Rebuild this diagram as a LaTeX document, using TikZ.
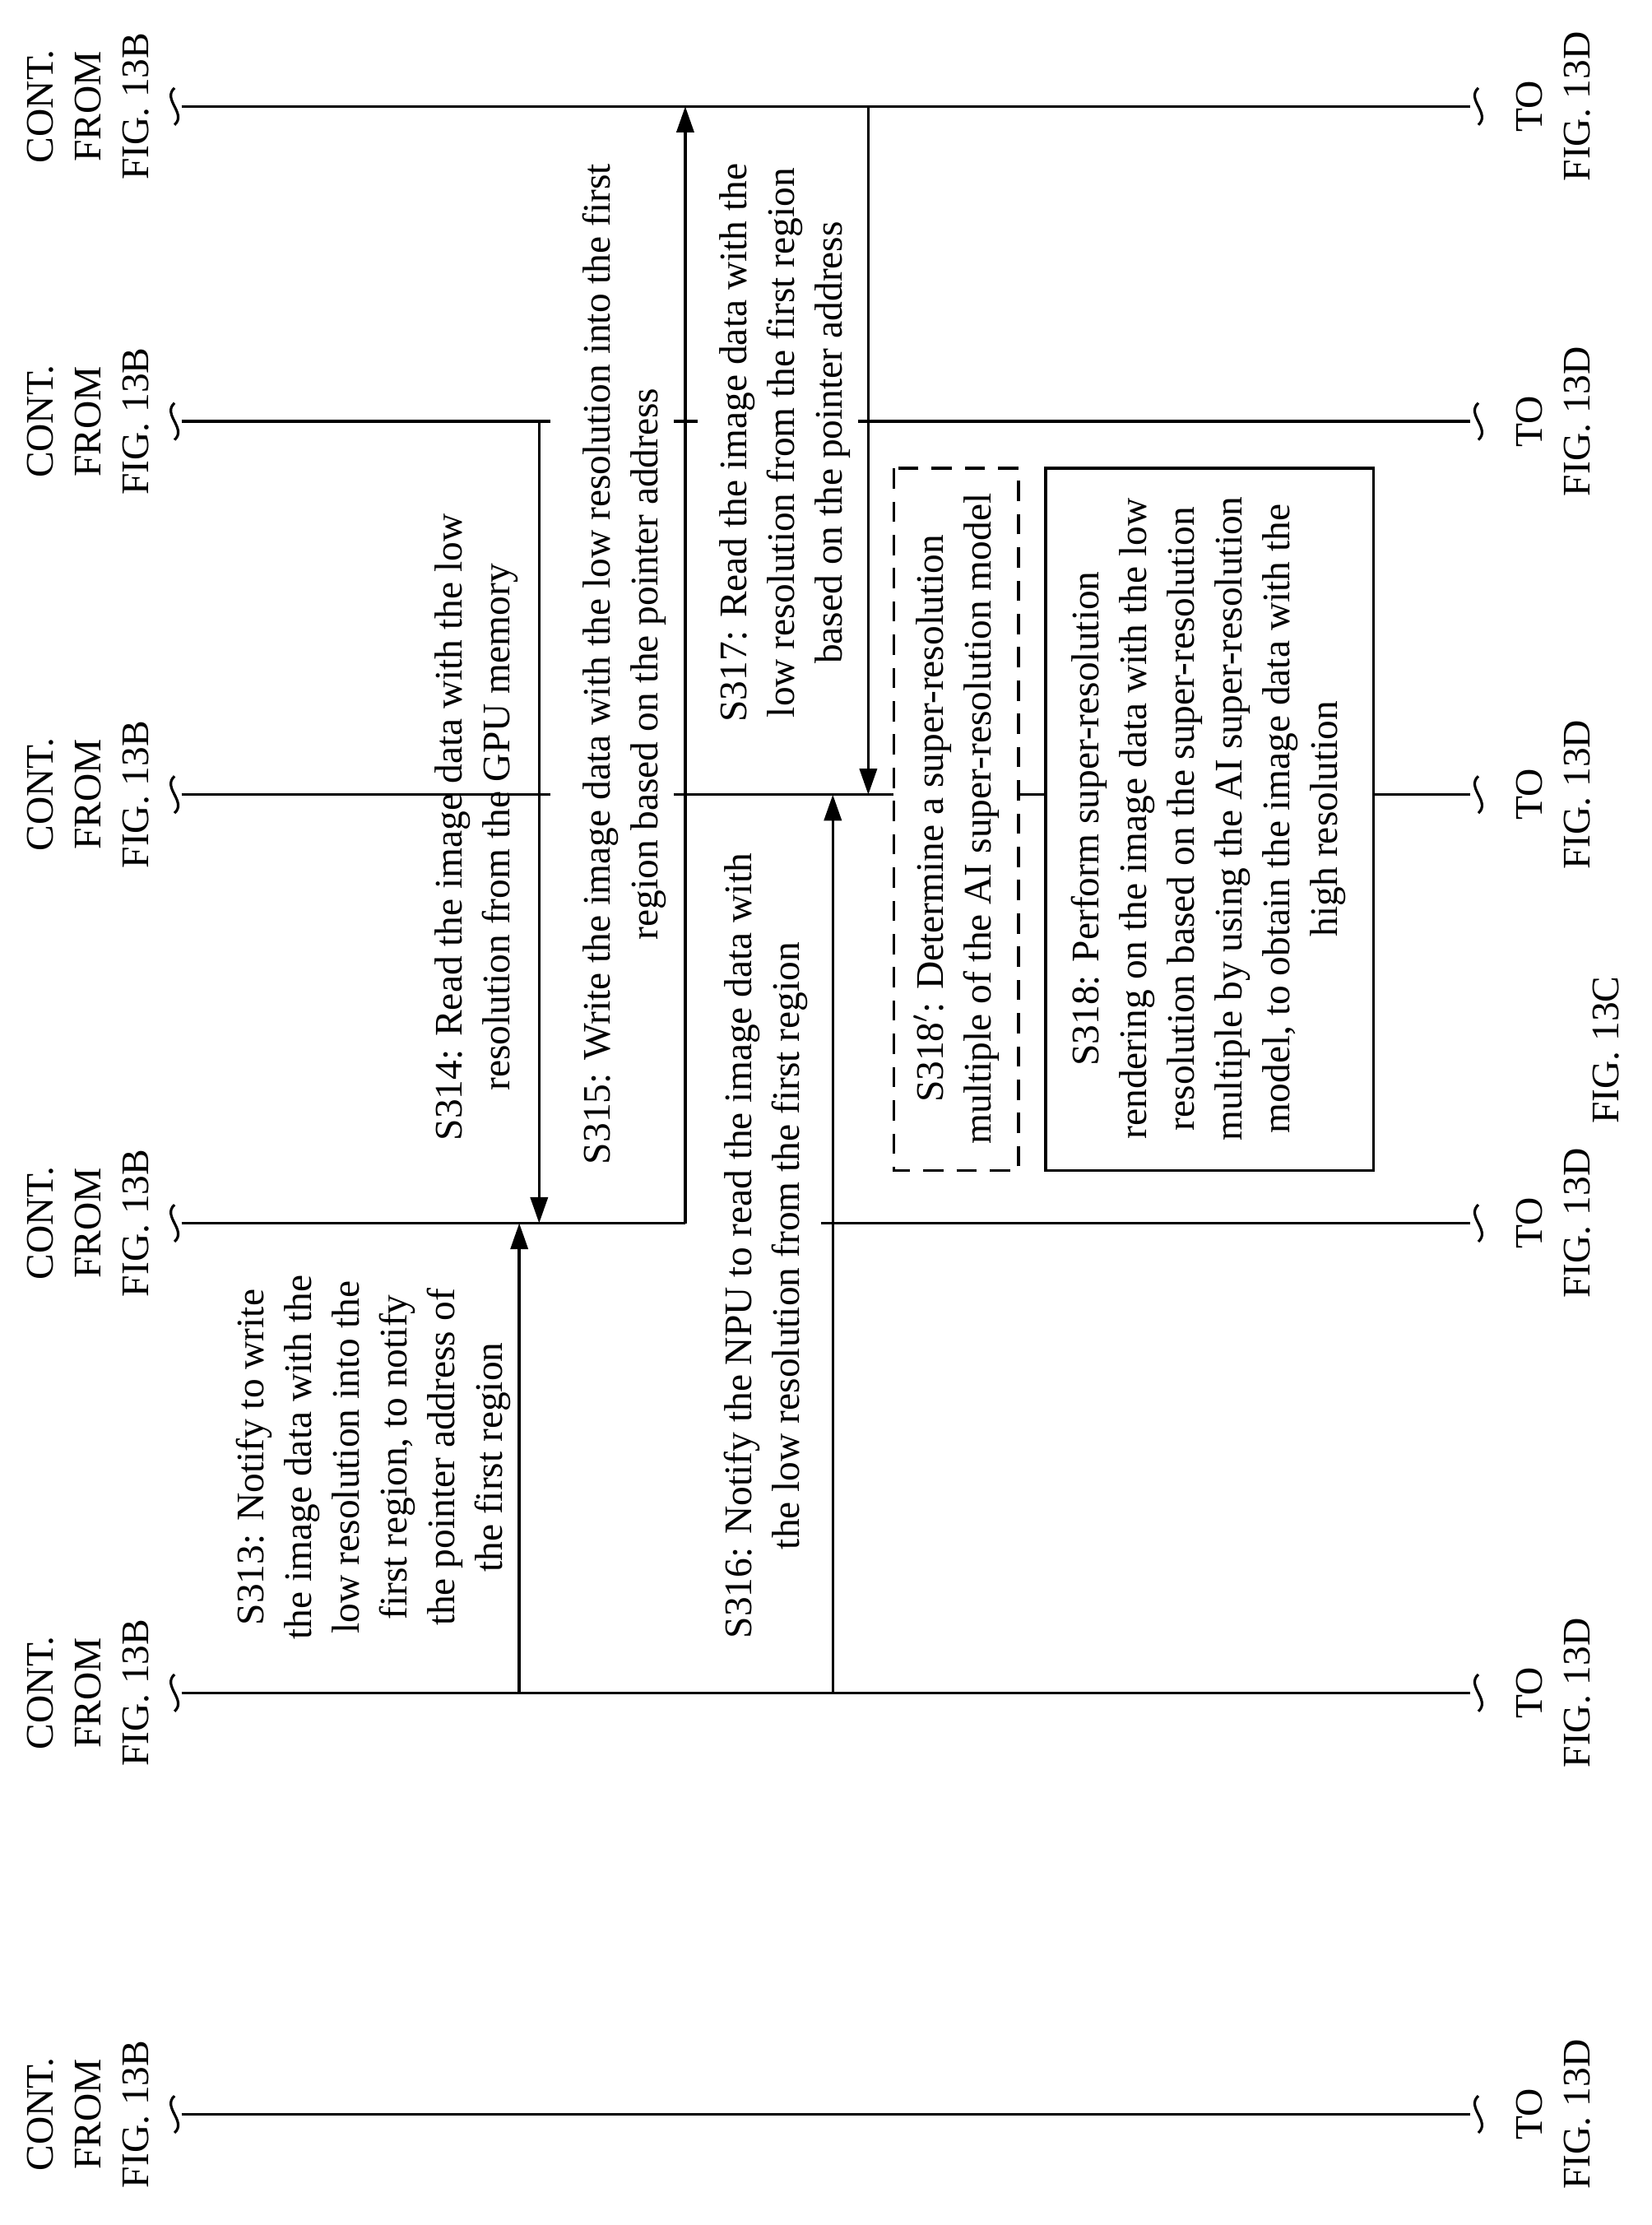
\documentclass[tikz,border=0pt]{standalone}
\usepackage{fontspec}
\setmainfont{Liberation Serif}
\usetikzlibrary{arrows.meta}
\begin{document}
\begin{tikzpicture}[x=0.017245cm,y=-0.017245cm,
  ln/.style={line width=1pt},
  arr/.style={line width=1pt,-{Triangle[length=9pt,width=6pt]}},
  lbl/.style={rotate=90,align=center,font=\fontsize{13.5}{16.5}\selectfont,inner sep=0pt},
  box/.style={draw,line width=1pt,inner sep=0pt}]
\useasboundingbox (0,0) rectangle (1164.4,1568);
\newcommand{\tld}[2]{\draw[line width=0.9pt] (#1,#2-13) .. controls (#1-9,#2-5) and (#1+9,#2+5) .. (#1,#2+13);}
\foreach \y [count=\i] in {75,297,560,862,1193,1490}{
  \node[lbl] (from\i) at (62,\y) {CONT.\\FROM\\FIG. 13B};
  \node[lbl] (to\i) at (1095,\y) {TO\\FIG. 13D};
  \tld{123}{\y}
  \tld{1042}{\y}
  \coordinate (L\i) at (128,\y);
  \coordinate (R\i) at (1036,\y);
}
% lifelines
\draw[ln] (L1) -- (R1);
\draw[ln] (L2) -- (388,297) (475,297) -- (492,297) (605,297) -- (R2);
\draw[ln] (L3) -- (388,560) (475,560) -- (630,560) (718,560) -- (737,560) (968,560) -- (R3);
\draw[ln] (L4) -- (483,862) (579,862) -- (R4);
\draw[ln] (L5) -- (R5);
\draw[ln] (L6) -- (R6);
% arrows
\coordinate (a313s) at (366,1193); \coordinate (a313e) at (366,862);
\coordinate (a314s) at (380,297); \coordinate (a314e) at (380,862);
\coordinate (a315s) at (483,862); \coordinate (a315e) at (483,75);
\coordinate (a316s) at (587,1193); \coordinate (a316e) at (587,560);
\coordinate (a317s) at (612,75); \coordinate (a317e) at (612,560);
\draw[arr] (a313s) -- (a313e);
\draw[arr] (a314s) -- (a314e);
\draw[arr] (a315s) -- (a315e);
\draw[arr] (a316s) -- (a316e);
\draw[arr] (a317s) -- (a317e);
% labels
\node[lbl] (s313) at (263,1027) {S313: Notify to write\\the image data with the\\low resolution into the\\first region, to notify\\the pointer address of\\the first region};
\node[lbl] (s314) at (336,583) {S314: Read the image data with the low\\resolution from the GPU memory};
\node[lbl] (s315) at (440,468) {S315: Write the image data with the low resolution into the first\\region based on the pointer address};
\node[lbl] (s316) at (540,878) {S316: Notify the NPU to read the image data with\\the low resolution from the first region};
\node[lbl] (s317) at (553,312) {S317: Read the image data with the\\low resolution from the first region\\based on the pointer address};
\draw[line width=1pt,dash pattern=on 7pt off 4.5pt] (630,330) rectangle (718,825);
\node[lbl] (s318p) at (674,577) {S318$'$: Determine a super-resolution\\multiple of the AI super-resolution model};
\draw[line width=1pt] (737,330) rectangle (968,825);
\node[lbl] (s318) at (852,577) {S318: Perform super-resolution\\rendering on the image data with the low\\resolution based on the super-resolution\\multiple by using the AI super-resolution\\model, to obtain the image data with the\\high resolution};
\node[lbl] (cap) at (1132,740) {FIG. 13C};
\end{tikzpicture}
\end{document}
